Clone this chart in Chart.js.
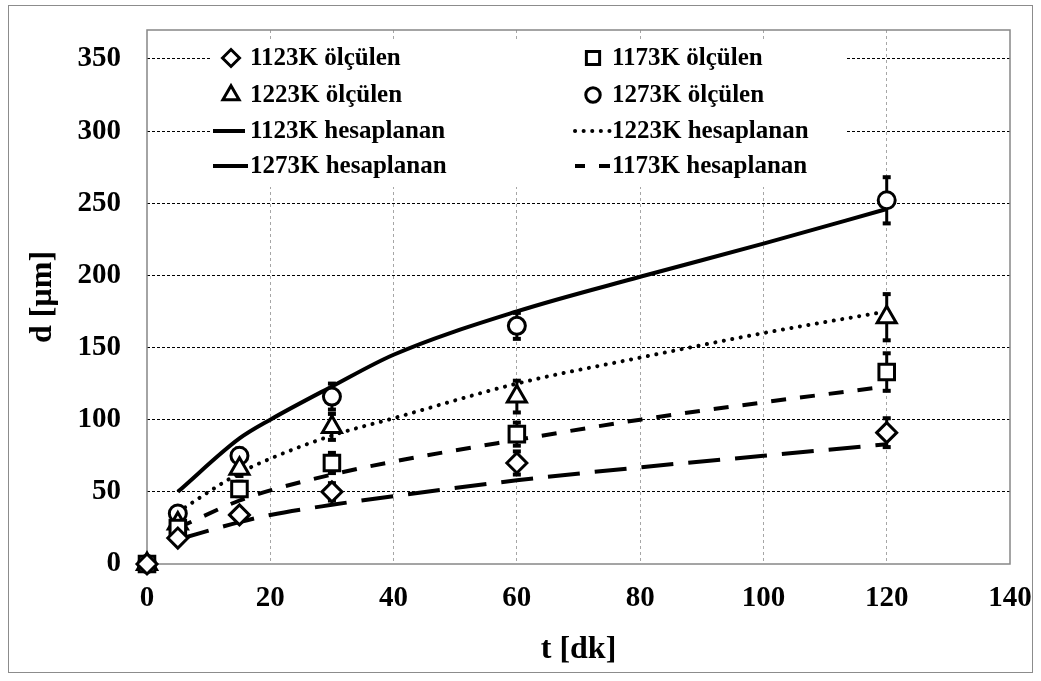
<!DOCTYPE html>
<html>
<head>
<meta charset="utf-8">
<script src="https://cdn.jsdelivr.net/npm/chart.js@4.4.0/dist/chart.umd.min.js"></script>
<style>
  body { margin: 0; background: #fff; }
  #wrap { position: absolute; left: 8px; top: 5px; width: 1023px; height: 666px; border: 1px solid #8c8c8c; }
</style>
</head>
<body>
<div id="wrap"><canvas id="grainChart" width="1023" height="666"></canvas></div>
<script>
// measured grain size (with error bars)
const tMeasured = [0, 5, 15, 30, 60, 120];
const d1123Measured = [0, 18, 34, 50, 70, 91];
const d1173Measured = [0, 25, 52, 70, 90, 133];
const d1223Measured = [0, 28, 66, 95, 116, 171];
const d1273Measured = [0, 35, 75, 116, 165, 252];
const err1123 = [0, 3, 4, 6, 8, 10];
const err1173 = [0, 3, 5, 7, 8, 13];
const err1223 = [0, 3, 5, 9, 11, 16];
const err1273 = [0, 3, 5, 9, 9, 16];

// calculated curves
const tCalc = [5, 15, 20, 30, 40, 60, 80, 100, 120];
const d1123Calc = [17, 29, 34, 41, 47, 58, 67, 75, 83];
const d1173Calc = [25, 44, 51, 62, 71, 86, 100, 112, 123];
const d1223Calc = [36, 63, 73, 89, 101, 125, 143, 160, 175];
const d1273Calc = [50, 87, 100, 123, 145, 175, 199, 222, 246];

const xTicks = [0, 20, 40, 60, 80, 100, 120, 140];
const yTicks = [0, 50, 100, 150, 200, 250, 300, 350];

const toPoints = (xs, ys) => xs.map((x, i) => ({ x: x, y: ys[i] }));

const serif = 'Liberation Serif, Times New Roman, serif';

function measured(label, ys, errs, style, radius) {
    return {
        label: label,
        data: toPoints(tMeasured, ys),
        errors: errs,
        showLine: false,
        pointStyle: style,
        pointRadius: radius,
        pointBorderWidth: 3,
        pointBorderColor: '#000',
        pointBackgroundColor: '#fff',
        clip: false,
        order: 0
    };
}

function calculated(label, ys, dash) {
    return {
        label: label,
        data: toPoints(tCalc, ys),
        borderColor: '#000',
        borderWidth: 4,
        borderDash: dash,
        borderCapStyle: dash.length && dash[0] < 1 ? 'round' : 'butt',
        pointRadius: 0,
        cubicInterpolationMode: 'monotone',
        fill: false,
        order: 1
    };
}

const datasets = [
    measured('1123K ölçülen', d1123Measured, err1123, 'rectRot', 10),
    measured('1173K ölçülen', d1173Measured, err1173, 'rect', 11),
    measured('1223K ölçülen', d1223Measured, err1223, 'triangle', 11),
    measured('1273K ölçülen', d1273Measured, err1273, 'circle', 8.5),
    calculated('1123K hesaplanan', d1123Calc, [32, 15]),
    calculated('1173K hesaplanan', d1173Calc, [15, 14]),
    calculated('1223K hesaplanan', d1223Calc, [0.1, 8.5]),
    calculated('1273K hesaplanan', d1273Calc, [])
];

// legend grid: dataset indices, row by row
const legendRows = [[0, 1], [2, 3], [4, 6], [7, 5]];

// plot area frame
const plotFrame = {
    id: 'plotFrame',
    beforeDatasetsDraw(chart) {
        const { ctx, chartArea: a } = chart;
        ctx.save();
        ctx.strokeStyle = '#878787';
        ctx.lineWidth = 1.5;
        ctx.strokeRect(a.left, a.top, a.right - a.left, a.bottom - a.top);
        ctx.restore();
    }
};

// vertical error bars with caps
const errorBars = {
    id: 'errorBars',
    beforeDatasetsDraw(chart) {
        const { ctx, scales: { x, y } } = chart;
        ctx.save();
        ctx.strokeStyle = '#000';
        ctx.fillStyle = '#000';
        ctx.lineWidth = 3;
        chart.data.datasets.forEach(ds => {
            if (!ds.errors) return;
            ds.data.forEach((p, i) => {
                const e = ds.errors[i];
                if (!e) return;
                const px = x.getPixelForValue(p.x);
                const top = y.getPixelForValue(p.y + e);
                const bot = y.getPixelForValue(p.y - e);
                ctx.beginPath();
                ctx.moveTo(px, top);
                ctx.lineTo(px, bot);
                ctx.stroke();
                ctx.fillRect(px - 4, top - 2, 8, 4);
                ctx.fillRect(px - 4, bot - 2, 8, 4);
            });
        });
        ctx.restore();
    }
};

// two-column legend inside the plot
const gridLegend = {
    id: 'gridLegend',
    beforeDatasetsDraw(chart) {
        const { ctx, chartArea: a } = chart;
        const ds = chart.data.datasets;
        ctx.save();
        ctx.fillStyle = '#fff';
        ctx.fillRect(a.left + 63, a.top + 9, 636, 148);
        const colMark = [84, 446];
        const colText = [103, 465];
        const rowY = [28, 65, 101, 136];
        ctx.font = 'bold 25px ' + serif;
        ctx.textBaseline = 'middle';
        legendRows.forEach((row, r) => {
            row.forEach((idx, c) => {
                const d = ds[idx];
                const yy = a.top + rowY[r];
                const mx = a.left + colMark[c];
                if (d.showLine === false) {
                    ctx.fillStyle = '#fff';
                    ctx.strokeStyle = '#000';
                    ctx.lineWidth = 3;
                    Chart.helpers.drawPoint(ctx, {
                        pointStyle: d.pointStyle,
                        radius: d.pointRadius * 0.85,
                        borderWidth: 3,
                        rotation: 0
                    }, mx, yy);
                } else {
                    ctx.strokeStyle = '#000';
                    ctx.lineWidth = 4;
                    ctx.setLineDash(d.borderDash);
                    // short dash: centre the pattern like "- -"
                    ctx.lineDashOffset = (d.borderDash[0] > 1 && d.borderDash[0] < 20) ? 5 : 0;
                    ctx.lineCap = d.borderCapStyle;
                    ctx.beginPath();
                    ctx.moveTo(mx - 18, yy);
                    ctx.lineTo(a.left + colText[c] - 2, yy);
                    ctx.stroke();
                    ctx.setLineDash([]);
                    ctx.lineDashOffset = 0;
                }
                ctx.fillStyle = '#000';
                ctx.fillText(d.label, a.left + colText[c], yy + 1);
            });
        });
        ctx.restore();
    }
};

// fixed axis sizes, no label overflow padding
function fixSize(prop, size) {
    return scale => {
        scale[prop] = size;
        scale.paddingTop = 0;
        scale.paddingBottom = 0;
        scale.paddingLeft = 0;
        scale.paddingRight = 0;
    };
}

const ctx = document.getElementById('grainChart').getContext('2d');
new Chart(ctx, {
    type: 'line',
    data: { datasets: datasets },
    plugins: [plotFrame, gridLegend, errorBars],
    options: {
        responsive: false,
        animation: false,
        layout: { padding: { top: 24, right: 22, left: 0, bottom: 0 } },
        plugins: {
            legend: { display: false },
            tooltip: { enabled: false }
        },
        scales: {
            x: {
                type: 'linear',
                min: 0,
                max: 140,
                afterFit: fixSize('height', 108),
                afterBuildTicks: axis => { axis.ticks = xTicks.map(v => ({ value: v })); },
                ticks: {
                    color: '#000',
                    padding: 17,
                    maxRotation: 0,
                    font: { family: serif, size: 29, weight: 'bold' }
                },
                grid: {
                    drawTicks: false,
                    color: c => (c.tick && (c.tick.value === 0 || c.tick.value === 140)) ? 'rgba(0,0,0,0)' : '#a6a6a6',
                    lineWidth: 1
                },
                border: { display: false, dash: [3, 3] },
                title: {
                    display: true,
                    text: 't [dk]',
                    color: '#000',
                    padding: { top: 0, bottom: 3 },
                    font: { family: serif, size: 32, weight: 'bold' }
                }
            },
            y: {
                type: 'linear',
                min: 0,
                max: 370,
                afterFit: fixSize('width', 138),
                afterBuildTicks: axis => { axis.ticks = yTicks.map(v => ({ value: v })); },
                ticks: {
                    color: '#000',
                    padding: 26,
                    font: { family: serif, size: 29, weight: 'bold' }
                },
                grid: {
                    drawTicks: false,
                    color: c => (c.tick && c.tick.value === 0) ? 'rgba(0,0,0,0)' : '#000',
                    lineWidth: 1
                },
                border: { display: false, dash: [3, 2] },
                title: {
                    display: true,
                    text: 'd [µm]',
                    color: '#000',
                    padding: { top: 15, bottom: 0 },
                    font: { family: serif, size: 32, weight: 'bold' }
                }
            }
        }
    }
});
</script>
</body>
</html>
